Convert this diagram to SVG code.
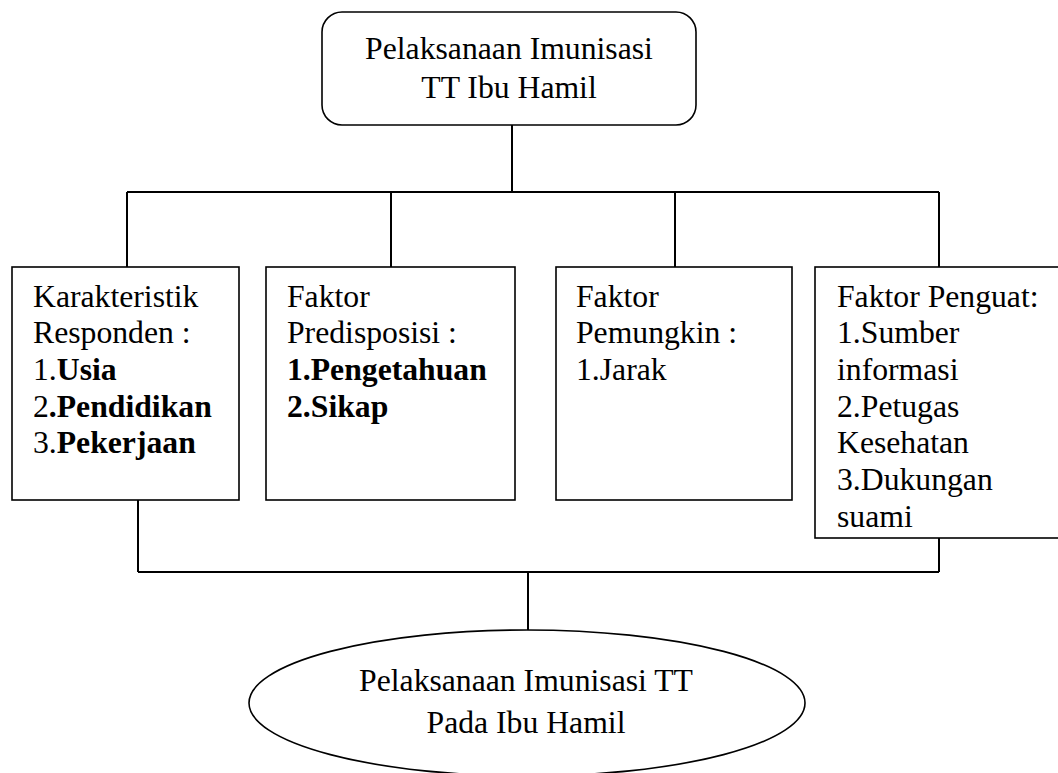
<svg xmlns="http://www.w3.org/2000/svg" width="1058" height="773" viewBox="0 0 1058 773">
<style>
.box{fill:#fff;stroke:#000;stroke-width:1.6}
.ln{fill:none;stroke:#000;stroke-width:2}
text{font-family:"Liberation Serif","Times New Roman",serif;font-size:31.7px;fill:#000}
.c{text-anchor:middle}
.b{font-weight:bold}
</style>
<rect width="1058" height="773" fill="#fff"/>
<g id="connectors">
<path class="ln" d="M512 125V192M127 192H939M127 192V267M391 192V267M675 192V267M939 192V267"/>
<path class="ln" d="M138 500V572M939 538V572M138 572H939M528 572V630"/>
</g>
<g id="top">
<rect class="box" x="322" y="12" width="374" height="113" rx="20"/>
<text class="c" x="509" y="59">Pelaksanaan Imunisasi</text>
<text class="c" x="509" y="98">TT Ibu Hamil</text>
</g>
<g id="karakteristik">
<rect class="box" x="12" y="267" width="227" height="233"/>
<text x="33" y="306.7">Karakteristik</text>
<text x="33" y="343.3">Responden :</text>
<text x="33" y="380">1.<tspan class="b">Usia</tspan></text>
<text x="33" y="416.7">2<tspan class="b">.Pendidikan</tspan></text>
<text x="33" y="453.3">3.<tspan class="b">Pekerjaan</tspan></text>
</g>
<g id="predisposisi">
<rect class="box" x="266" y="267" width="249" height="233"/>
<text x="287" y="306.7">Faktor</text>
<text x="287" y="343.3">Predisposisi :</text>
<text class="b" x="287" y="380">1.Pengetahuan</text>
<text class="b" x="287" y="416.7">2.Sikap</text>
</g>
<g id="pemungkin">
<rect class="box" x="556" y="267" width="236" height="233"/>
<text x="576" y="306.7">Faktor</text>
<text x="576" y="343.3">Pemungkin :</text>
<text x="576" y="380">1.Jarak</text>
</g>
<g id="penguat">
<rect class="box" x="815" y="267" width="246" height="271"/>
<text x="837" y="306.7">Faktor Penguat:</text>
<text x="837" y="343.3">1.Sumber</text>
<text x="837" y="380">informasi</text>
<text x="837" y="416.7">2.Petugas</text>
<text x="837" y="453.3">Kesehatan</text>
<text x="837" y="490">3.Dukungan</text>
<text x="837" y="526.7">suami</text>
</g>
<g id="hasil">
<ellipse class="box" cx="527" cy="703" rx="278" ry="73"/>
<text class="c" x="526" y="691">Pelaksanaan Imunisasi TT</text>
<text class="c" x="526" y="733">Pada Ibu Hamil</text>
</g>
</svg>
